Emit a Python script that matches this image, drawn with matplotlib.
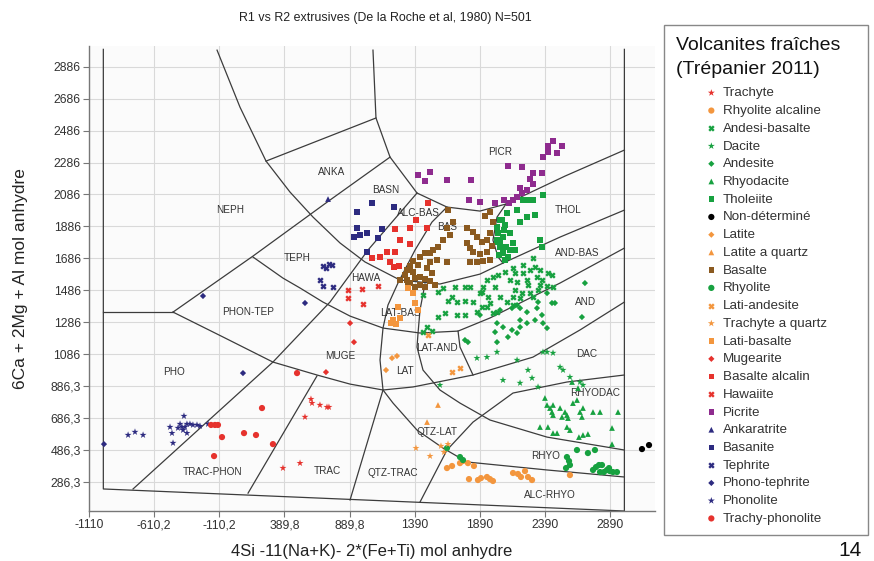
import matplotlib
matplotlib.use("Agg")
import matplotlib.pyplot as plt
from matplotlib.patches import Rectangle

plt.rcParams["font.family"] = ["Liberation Sans", "DejaVu Sans"]

# ---------------------------------------------------------------- samples
picrite_x = [1416, 1469, 1508, 1638, 1822, 1807, 1891, 2007, 2106, 2214, 2298, 2367, 2275, 2298,
             2252, 2214, 2176, 2145, 2114, 2199, 2375, 2413, 2452, 2521, 2413, 2483, 2076]
picrite_y = [2207, 2170, 2226, 2176, 2176, 2051, 2038, 2032, 2264, 2258, 2220, 2220, 2182, 2151,
             2114, 2095, 2070, 2051, 2032, 2126, 2320, 2352, 2420, 2389, 2389, 2345, 2051]

tholeiite_x = [2145, 2176, 2252, 2298, 2375, 2314, 2252, 2199, 2099, 2045, 2022, 2030, 2022, 2045,
               2068, 2106, 2145, 2352, 2367, 2122, 2083, 2068, 2045, 2091, 2122, 2160, 2076, 2030,
               2060, 2037, 2083, 2222]
tholeiite_y = [2051, 1988, 2051, 2051, 2082, 1957, 1944, 1913, 1969, 1926, 1882, 1844, 1800, 1756,
               1719, 1694, 1782, 1800, 1756, 1844, 1894, 1819, 1782, 1756, 1738, 1738, 1863, 1788,
               1926, 1706, 1675, 2051]

basalte_x = [1646, 1684, 1638, 1661, 1608, 1569, 1531, 1508, 1469, 1431, 1377, 1354, 1331, 1316,
             1331, 1354, 1393, 1431, 1469, 1508, 1546, 1523, 1485, 1508, 1561, 1416, 1377, 1638,
             1792, 1838, 1868, 1907, 1792, 1815, 1838, 1891, 1945, 1984, 1945, 1968, 1991, 1930,
             1968, 1968, 1868, 1914, 1815, 1339, 1393, 1431, 1469, 1277]
basalte_y = [1988, 1913, 1875, 1832, 1800, 1756, 1738, 1719, 1719, 1694, 1669, 1637, 1612, 1581,
             1550, 1531, 1562, 1569, 1556, 1544, 1518, 1594, 1625, 1663, 1675, 1644, 1600, 1663,
             1875, 1850, 1819, 1788, 1782, 1750, 1725, 1713, 1725, 1763, 1800, 1844, 1913, 1951,
             1976, 1675, 1663, 1669, 1663, 1518, 1506, 1518, 1506, 1550]

basalte_alcalin_x = [1492, 1400, 1239, 1354, 1485, 1277, 1354, 1178, 1239, 1062, 1124, 1201, 1231, 1270]
basalte_alcalin_y = [2032, 1926, 1869, 1875, 1875, 1800, 1775, 1725, 1725, 1688, 1694, 1663, 1631, 1637]

basanite_x = [1062, 1231, 947, 947, 1139, 1024, 970, 924, 1109, 1024]
basanite_y = [2032, 2007, 1976, 1875, 1869, 1844, 1832, 1819, 1813, 1725]

ankaratrite_x = [725]
ankaratrite_y = [2057]

tephrite_x = [686, 732, 755, 663, 686, 763, 709]
tephrite_y = [1637, 1650, 1644, 1550, 1512, 1506, 1625]

phono_tephrite_x = [-235, 548, 72, -995]
phono_tephrite_y = [1450, 1406, 967, 522]

phonolite_x = [-381, -488, -473, -465, -411, -396, -358, -335, -312, -281, -258, -196, -427, -388,
               -358, -373, -757, -810, -695]
phonolite_y = [698, 629, 591, 529, 648, 629, 648, 648, 642, 642, 635, 648, 623, 610,
               591, 629, 598, 579, 579]

trachy_phonolite_x = [-173, -143, -120, -89, 80, 172, 302, -150, 218, 487]
trachy_phonolite_y = [642, 642, 642, 566, 591, 579, 522, 447, 748, 967]

mugearite_x = [894, 924, 709]
mugearite_y = [1280, 1161, 973]

trachyte_x = [594, 602, 663, 717, 732, 548, 379, 510]
trachyte_y = [804, 779, 767, 754, 754, 692, 372, 403]

hawaiite_x = [878, 878, 986, 993, 1109]
hawaiite_y = [1487, 1437, 1493, 1399, 1512]

lati_basalte_x = [1339, 1377, 1262, 1393, 1416, 1224, 1208, 1247, 1277]
lati_basalte_y = [1500, 1468, 1381, 1406, 1362, 1299, 1280, 1274, 1312]

lati_andesite_x = [1677, 1738, 1492]
lati_andesite_y = [973, 998, 1205]

latite_x = [1216, 1254, 1170]
latite_y = [1061, 1074, 986]

latite_quartz_x = [1569, 1485]
latite_quartz_y = [767, 660]

trachyte_quartz_x = [1400, 1508, 1592, 1615, 1646]
trachyte_quartz_y = [497, 447, 510, 472, 522]

rhyolite_alcaline_x = [1638, 1677, 1738, 1761, 1799, 1845, 1807, 1876, 1899, 1945, 1968, 1991,
                       2145, 2183, 2206, 2237, 2260, 2291, 2582]
rhyolite_alcaline_y = [372, 385, 403, 416, 403, 385, 303, 297, 309, 316, 303, 291,
                       341, 335, 316, 353, 316, 297, 328]

rhyolite_x = [1638, 1738, 1761, 2552, 2559, 2575, 2582, 2636, 2720, 2774, 2759, 2782, 2805, 2828,
              2843, 2866, 2889, 2912, 2943, 2882, 2813]
rhyolite_y = [497, 441, 422, 372, 441, 416, 391, 485, 466, 485, 360, 378, 391, 391,
              347, 360, 353, 347, 347, 372, 347]

rhyodacite_x = [2390, 2406, 2429, 2452, 2444, 2452, 2506, 2544, 2559, 2567, 2521, 2413, 2452, 2352,
                2559, 2582, 2605, 2636, 2659, 2674, 2682, 2759, 2813, 2951, 2905, 2905, 2682, 2720,
                2651, 2483, 2598, 2644]
rhyodacite_y = [811, 767, 748, 767, 723, 704, 748, 723, 704, 685, 692, 629, 591, 629,
                629, 610, 779, 798, 723, 692, 748, 723, 723, 723, 623, 522, 579, 585,
                566, 591, 911, 873]

dacite_x = [1868, 1945, 2022, 2176, 2260, 2291, 2375, 2452, 2506, 2529, 2337, 2199, 2068, 1584,
            2582, 2659, 2682, 2406]
dacite_y = [1061, 1067, 1099, 1049, 986, 936, 1099, 1093, 1005, 986, 880, 905, 923, 892,
            942, 911, 892, 1099]

andesite_x = [2007, 2022, 2068, 2106, 2137, 2176, 2199, 2252, 2022, 1776, 1799, 2137, 2176, 2199,
              2252, 2329, 2375, 2444, 2467, 2674, 2697, 2367, 2406, 2199, 2314, 2337, 1891, 2406,
              2045]
andesite_y = [1224, 1161, 1255, 1193, 1237, 1218, 1255, 1280, 1280, 1174, 1161, 1374, 1393, 1374,
              1349, 1374, 1280, 1406, 1406, 1318, 1531, 1331, 1249, 1299, 1299, 1412, 1331, 1468,
              1362]

andesi_basalte_x = [1454, 1569, 1608, 1646, 1700, 1715, 1776, 1776, 1815, 1907, 1953, 1677, 1838,
                    1907, 1945, 1569, 1623, 1715, 1776, 1868, 1991, 1485, 1523, 1454, 1891, 1914,
                    1945, 1991, 2030, 2083, 2145, 2160, 2222, 2222, 2298, 2352, 2314, 2275, 2367,
                    2329, 2337, 2275, 2214, 2160, 2145, 2045, 1968, 2022, 2145, 2298, 2413, 2444,
                    2252, 2176, 2122, 2007, 2260, 2352, 2406, 2452, 2199, 2099]
andesi_basalte_y = [1456, 1475, 1500, 1418, 1506, 1412, 1506, 1418, 1506, 1475, 1443, 1443, 1412,
                    1381, 1381, 1318, 1343, 1331, 1331, 1349, 1343, 1255, 1230, 1224, 1468, 1506,
                    1550, 1569, 1581, 1600, 1625, 1594, 1644, 1594, 1688, 1612, 1631, 1612, 1550,
                    1569, 1487, 1468, 1468, 1487, 1443, 1443, 1406, 1349, 1393, 1443, 1594, 1581,
                    1550, 1537, 1550, 1506, 1518, 1518, 1512, 1506, 1437, 1412]

non_determine_x = [3135, 3189]
non_determine_y = [491, 516]

# ------------------------------------------------- classification fields
border = [(-1000, 2995), (-1000, 241), (3000, 103), (3000, 2995)]
line_neph = [(-127, 2990), (49, 2633), (249, 2295), (433, 2101), (610, 1944), (817, 1782),
             (1009, 1663), (1277, 1550), (1584, 1525), (1891, 1587), (2068, 1656), (2506, 1819),
             (3000, 1988)]
line_picr = [(1070, 2990), (1093, 2565), (1201, 2320), (1408, 2095), (1638, 2007), (1891, 1982),
             (2091, 2026), (2544, 2201), (3000, 2364)]
line_anka = [(249, 2295), (1093, 2565)]
line_teph = [(-465, 1349), (149, 1700), (740, 2051), (1201, 2320)]
line_pho = [(-1000, 1349), (-465, 1349)]
line_trac = [(-465, 1349), (-81, 1193), (302, 1036), (640, 955), (894, 898), (1147, 861),
             (1377, 880), (1838, 955), (2298, 1067), (2659, 1237), (3000, 1412)]
line_muge = [(149, 1694), (379, 1562), (510, 1500), (686, 1412), (894, 1324), (1147, 1249),
             (1431, 1218), (1723, 1230), (1968, 1312), (2506, 1531), (3000, 1750)]
line_phon = [(-772, 241), (302, 1036), (740, 1412), (1032, 1738), (1408, 2095)]
line_trac_phon = [(111, 215), (640, 949)]
line_qtz_trac = [(894, 172), (1147, 861), (1124, 1049), (1147, 1249), (1185, 1393), (1262, 1531),
                 (1393, 1738), (1523, 1913), (1638, 2007)]
line_alc_rhyo = [(1147, 861), (1224, 779), (1408, 610), (1608, 497), (1792, 410), (2406, 360),
                 (3000, 316)]
line_rhyodac = [(1431, 159), (1638, 485), (1838, 660), (2145, 842), (2559, 911), (3000, 955)]
line_rhyo = [(1469, 1525), (1431, 1362), (1416, 1218), (1408, 1130), (1454, 986), (1584, 861),
             (1738, 779), (1968, 673), (2406, 566), (3000, 485)]
line_lat_and = [(1723, 1230), (1738, 1130), (1838, 955)]
line_thol = [(2091, 2026), (2022, 1944), (1991, 1800), (2030, 1694), (2068, 1656)]

field_names = ["NEPH", "ANKA", "BASN", "PICR", "ALC-BAS", "BAS", "THOL", "TEPH", "HAWA",
               "AND-BAS", "AND", "PHON-TEP", "LAT-BAS", "LAT-AND", "MUGE", "DAC", "PHO", "LAT",
               "RHYODAC", "QTZ-LAT", "RHYO", "TRAC-PHON", "TRAC", "QTZ-TRAC", "ALC-RHYO"]
field_x = [-27, 755, 1170, 2045, 1416, 1638, 2567, 487, 1017, 2636, 2705, 111, 1277, 1561, 817,
           2713, -457, 1316, 2774, 1561, 2398, -165, 717, 1224, 2429]
field_y = [1988, 2226, 2114, 2352, 1969, 1881, 1988, 1688, 1562, 1719, 1412, 1349, 1343, 1124, 1074,
           1086, 973, 980, 842, 598, 447, 347, 353, 341, 203]

x_ticks = [-1110, -610.2, -110.2, 389.8, 889.8, 1390, 1890, 2390, 2890]
y_ticks = [286.3, 486.3, 686.3, 886.3, 1086, 1286, 1486, 1686, 1886, 2086, 2286, 2486, 2686, 2886]

# --------------------------------------------------------------- styling
GREEN = "#17a140"
ORANGE = "#f3963e"
RED = "#e6322d"
BROWN = "#8b5a20"
PURPLE = "#8e2b8e"
NAVY = "#2d2b80"

series = [
    ("Trachyte", trachyte_x, trachyte_y, "*", RED, 28),
    ("Rhyolite alcaline", rhyolite_alcaline_x, rhyolite_alcaline_y, "o", ORANGE, 20),
    ("Andesi-basalte", andesi_basalte_x, andesi_basalte_y, "x", GREEN, 11),
    ("Dacite", dacite_x, dacite_y, "*", GREEN, 28),
    ("Andesite", andesite_x, andesite_y, "D", GREEN, 10),
    ("Rhyodacite", rhyodacite_x, rhyodacite_y, "^", GREEN, 17),
    ("Tholeiite", tholeiite_x, tholeiite_y, "s", GREEN, 16),
    ("Non-déterminé", non_determine_x, non_determine_y, "o", "black", 20),
    ("Latite", latite_x, latite_y, "D", ORANGE, 10),
    ("Latite a quartz", latite_quartz_x, latite_quartz_y, "^", ORANGE, 17),
    ("Basalte", basalte_x, basalte_y, "s", BROWN, 16),
    ("Rhyolite", rhyolite_x, rhyolite_y, "o", GREEN, 20),
    ("Lati-andesite", lati_andesite_x, lati_andesite_y, "x", ORANGE, 11),
    ("Trachyte a quartz", trachyte_quartz_x, trachyte_quartz_y, "*", ORANGE, 28),
    ("Lati-basalte", lati_basalte_x, lati_basalte_y, "s", ORANGE, 16),
    ("Mugearite", mugearite_x, mugearite_y, "D", RED, 10),
    ("Basalte alcalin", basalte_alcalin_x, basalte_alcalin_y, "s", RED, 16),
    ("Hawaiite", hawaiite_x, hawaiite_y, "x", RED, 11),
    ("Picrite", picrite_x, picrite_y, "s", PURPLE, 16),
    ("Ankaratrite", ankaratrite_x, ankaratrite_y, "^", NAVY, 17),
    ("Basanite", basanite_x, basanite_y, "s", NAVY, 16),
    ("Tephrite", tephrite_x, tephrite_y, "x", NAVY, 11),
    ("Phono-tephrite", phono_tephrite_x, phono_tephrite_y, "D", NAVY, 10),
    ("Phonolite", phonolite_x, phonolite_y, "*", NAVY, 28),
    ("Trachy-phonolite", trachy_phonolite_x, trachy_phonolite_y, "o", RED, 20),
]

W, H = 874, 561
fig = plt.figure(figsize=(W / 100, H / 100), dpi=100)
fig.patch.set_facecolor("white")
ax = fig.add_axes([89 / W, 1 - 511 / H, (655 - 89) / W, (511 - 46) / H])
ax.set_facecolor("#fbfbfb")
ax.set_xlim(-1110, 3235)
ax.set_ylim(103, 3016)

ax.set_xticks(x_ticks)
ax.set_xticklabels([(f"{v:g}").replace(".", ",") for v in x_ticks])
ax.set_yticks(y_ticks)
ax.set_yticklabels([(f"{v:g}").replace(".", ",") for v in y_ticks])
ax.tick_params(axis="both", labelsize=8.8, colors="#333333", length=4, width=0.8, pad=2)
ax.tick_params(axis="both", color="#777777")
ax.grid(True, color="#d9d9d9", linewidth=0.8, zorder=0)
ax.set_axisbelow(True)
for side in ("top", "right"):
    ax.spines[side].set_visible(False)
for side in ("left", "bottom"):
    ax.spines[side].set_color("#777777")
    ax.spines[side].set_linewidth(1.0)

# field boundaries
for poly in (border, line_neph, line_picr, line_anka, line_teph, line_pho, line_trac, line_muge,
             line_phon, line_trac_phon, line_qtz_trac, line_alc_rhyo, line_rhyodac, line_rhyo,
             line_lat_and, line_thol):
    xs, ys = zip(*poly)
    ax.plot(xs, ys, color="#3c3c3c", linewidth=0.9, zorder=2, solid_joinstyle="round")

for name, fx, fy in zip(field_names, field_x, field_y):
    ax.text(fx, fy, name, fontsize=7.2, color="#333333", ha="center", va="center", zorder=2.5)

# samples
handles = []
for label, xs, ys, mk, col, size in series:
    if mk == "x":
        h = ax.scatter(xs, ys, marker=mk, s=size, c=col, linewidths=1.7, zorder=3, label=label,
                       clip_on=False)
    else:
        h = ax.scatter(xs, ys, marker=mk, s=size, c=col, edgecolors="none", zorder=3, label=label,
                       clip_on=False)
    handles.append(h)

fig.text(385 / W, 1 - 18 / H, "R1 vs R2 extrusives (De la Roche et al, 1980) N=501",
         ha="center", va="center", fontsize=8.9, color="#222222")
ax.set_xlabel("4Si -11(Na+K)- 2*(Fe+Ti) mol anhydre", fontsize=12, color="#222222",
              labelpad=9)
ax.set_ylabel("6Ca + 2Mg + Al mol anhydre", fontsize=12.5, color="#222222", labelpad=16)

# legend panel
fig.add_artist(Rectangle((664 / W, 1 - 535 / H), (868 - 664) / W, (535 - 25) / H,
                         transform=fig.transFigure, facecolor="white", edgecolor="#888888",
                         linewidth=1.0, zorder=0))
fig.text(676 / W, 1 - 45 / H, "Volcanites fraîches", fontsize=14, color="#111111",
         ha="left", va="center")
fig.text(676 / W, 1 - 70 / H, "(Trépanier 2011)", fontsize=14, color="#111111",
         ha="left", va="center")
leg = ax.legend(handles=handles, loc="upper left", bbox_to_anchor=(706 / W, 1 - 87 / H),
                bbox_transform=fig.transFigure, frameon=False, fontsize=9.6,
                handlelength=0.8, handletextpad=0.45, labelspacing=0.405, borderpad=0,
                borderaxespad=0, scatterpoints=1)
for t in leg.get_texts():
    t.set_color("#333333")

fig.text(838 / W, 1 - 541 / H, "14", fontsize=15, color="#111111", ha="left", va="top")

fig.savefig("out.png", dpi=100)
